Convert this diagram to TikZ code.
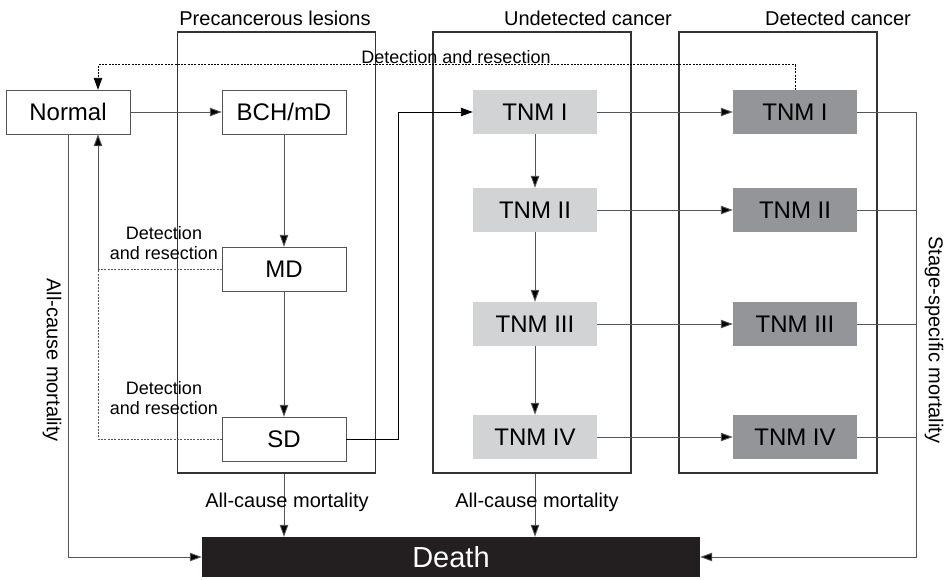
\documentclass[tikz,border=0pt]{standalone}
\usepackage{fontspec}
\setmainfont{Liberation Sans}
\usepackage{tikz}
\usetikzlibrary{arrows.meta}

\definecolor{undetgrey}{RGB}{209,211,212}
\definecolor{detgrey}{RGB}{147,149,152}
\definecolor{deathblack}{RGB}{35,31,32}
\definecolor{linegrey}{RGB}{85,85,85}

\begin{document}
\begin{tikzpicture}[x=1pt, y=-1pt,
  state/.style={draw=linegrey, minimum width=124pt, minimum height=44pt, inner sep=0pt, font=\fontsize{24}{24}\selectfont},
  tnmu/.style={state, draw=none, fill=undetgrey},
  tnmd/.style={state, draw=none, fill=detgrey},
  group/.style={draw=black!80, line width=1.4pt, minimum width=198pt, minimum height=441pt, inner sep=0pt},
  title/.style={font=\fontsize{20}{20}\selectfont},
  lab/.style={font=\fontsize{18}{20}\selectfont, align=center, inner sep=0pt},
  mort/.style={font=\fontsize{20}{20}\selectfont, inner sep=0pt},
  dots/.style={dash pattern=on 2pt off 1.3pt, line width=0.9pt},
  arr/.style={linegrey, line width=0.9pt, -{Triangle[length=12pt,width=8.5pt,fill=black]}}]

\useasboundingbox (0,0) rectangle (946,579);

\node [group] (pre) at (276.5,252.5) {};
\node [group] (und) at (532,252.5) {};
\node [group] (det) at (778,252.5) {};
\node [title] at (275,18) {Precancerous lesions};
\node [title] at (588,18) {Undetected cancer};
\node [title] at (838,18) {Detected cancer};

\node [state] (normal) at (68,112) {Normal};
\node [state] (bch) at (284,112) {BCH/mD};
\node [state] (md) at (284,269) {MD};
\node [state] (sd) at (284,439) {SD};

\node [tnmu] (u1) at (535,112) {TNM I};
\node [tnmu] (u2) at (535,210) {TNM II};
\node [tnmu] (u3) at (535,324) {TNM III};
\node [tnmu] (u4) at (535,437) {TNM IV};

\node [tnmd] (d1) at (795,112) {TNM I};
\node [tnmd] (d2) at (795,210) {TNM II};
\node [tnmd] (d3) at (795,324) {TNM III};
\node [tnmd] (d4) at (795,437) {TNM IV};

\node [state, draw=none, fill=deathblack, text=white, minimum width=498pt, minimum height=40pt, font=\fontsize{29}{29}\selectfont] (death) at (451,557) {Death};

\coordinate (back) at ([xshift=30pt]normal.south);
\coordinate (stage) at (916,0);

\draw[arr] (normal) to (bch);
\draw[arr] (bch) to (md);
\draw[arr] (md) to (sd);
\draw[arr, black] (sd.east) -- ++(52,0) |- (u1.west);

\draw[arr] (u1) to (u2);
\draw[arr] (u2) to (u3);
\draw[arr] (u3) to (u4);

\draw[arr] (u1) to (d1);
\draw[arr] (u2) to (d2);
\draw[arr] (u3) to (d3);
\draw[arr] (u4) to (d4);

\draw[arr] (d1.east) -| (stage |- death.east) -- (death.east);
\draw[linegrey, line width=0.9pt] (d2.east) to (d2.east -| stage);
\draw[linegrey, line width=0.9pt] (d3.east) to (d3.east -| stage);
\draw[linegrey, line width=0.9pt] (d4.east) to (d4.east -| stage);

\draw[arr] (normal.south) |- (death.west);
\draw[arr] (pre.south -| sd) to (death.north -| sd);
\draw[arr] (und.south -| u4) to (death.north -| u4);

\draw[arr, dots, black] (d1.north) -- ++(0,-25) -| ([xshift=30pt]normal.north);
\draw[linegrey, dots] (md.west) to (md.west -| back);
\draw[arr] (md.west -| back) to (back);
\draw[linegrey, dots] (sd.west) -| (md.west -| back);

\node [lab] at (456,57) {Detection and resection};
\node [lab] at (164,243) {Detection\\and resection};
\node [lab] at (164,398) {Detection\\and resection};
\node [mort] at (287,502) {All-cause mortality};
\node [mort] at (537,502) {All-cause mortality};
\node [mort, rotate=-90] at (52,360) {All-cause mortality};
\node [mort, rotate=-90] at (934,340) {Stage-specific mortality};

\end{tikzpicture}
\end{document}
